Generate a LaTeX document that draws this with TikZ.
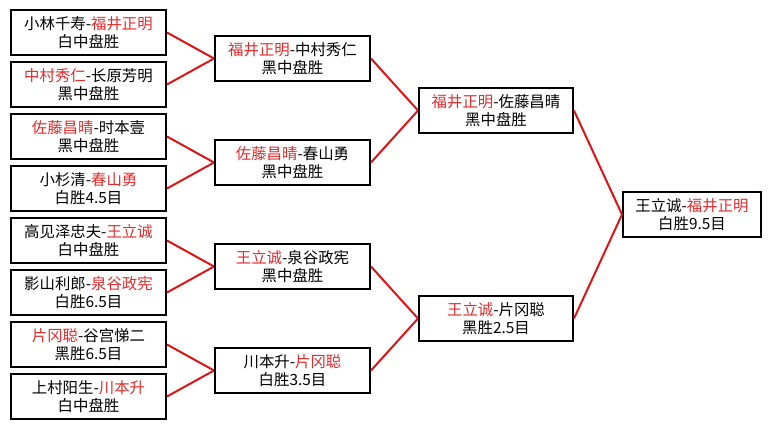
\documentclass[tikz,border=0pt]{standalone}
\usepackage{fontspec}
\newfontfamily\cjk{Noto Sans CJK SC}
\definecolor{wred}{RGB}{225,20,20}
\definecolor{tred}{RGB}{225,45,45}
\newcommand\rd[1]{\textcolor{tred}{#1}}
\begin{document}
\begin{tikzpicture}[x=1pt,y=-1pt,
  game/.style={draw=black,line width=2pt,fill=white,rectangle,minimum height=45pt,inner sep=0pt,align=center,
    font=\cjk\fontsize{15.4}{18.5}\selectfont},
  g1/.style={game,minimum width=155pt},
  g4/.style={game,minimum width=138pt},
  conn/.style={draw=wred,line width=2pt}]
\useasboundingbox (0,0) rectangle (771,429);
\fill[white] (0,0) rectangle (771,429);
% round 1
\node[g1] (a1) at (88.5,32.5)  {小林千寿-\rd{福井正明}\\白中盘胜};
\node[g1] (a2) at (88.5,84.5)  {\rd{中村秀仁}-长原芳明\\黑中盘胜};
\node[g1] (a3) at (88.5,136.5) {\rd{佐藤昌晴}-时本壹\\黑中盘胜};
\node[g1] (a4) at (88.5,188.5) {小杉清-\rd{春山勇}\\白胜4.5目};
\node[g1] (a5) at (88.5,240.5) {高见泽忠夫-\rd{王立诚}\\白中盘胜};
\node[g1] (a6) at (88.5,292.5) {影山利郎-\rd{泉谷政宪}\\白胜6.5目};
\node[g1] (a7) at (88.5,344.5) {\rd{片冈聪}-谷宫悌二\\黑胜6.5目};
\node[g1] (a8) at (88.5,396.5) {上村阳生-\rd{川本升}\\白中盘胜};
% round 2
\node[g1] (b1) at (292.5,58.5)  {\rd{福井正明}-中村秀仁\\黑中盘胜};
\node[g1] (b2) at (292.5,162.5) {\rd{佐藤昌晴}-春山勇\\黑中盘胜};
\node[g1] (b3) at (292.5,266.5) {\rd{王立诚}-泉谷政宪\\黑中盘胜};
\node[g1] (b4) at (292.5,370.5) {川本升-\rd{片冈聪}\\白胜3.5目};
% round 3
\node[g1,minimum width=154pt] (c1) at (496,110.5) {\rd{福井正明}-佐藤昌晴\\黑中盘胜};
\node[g1,minimum width=154pt] (c2) at (496,318.5) {\rd{王立诚}-片冈聪\\黑胜2.5目};
% final
\node[g4] (d1) at (692,214.5) {王立诚-\rd{福井正明}\\白胜9.5目};
% connectors
\draw[conn] (a1.east) -- (b1.west);
\draw[conn] (a2.east) -- (b1.west);
\draw[conn] (a3.east) -- (b2.west);
\draw[conn] (a4.east) -- (b2.west);
\draw[conn] (a5.east) -- (b3.west);
\draw[conn] (a6.east) -- (b3.west);
\draw[conn] (a7.east) -- (b4.west);
\draw[conn] (a8.east) -- (b4.west);
\draw[conn] (b1.east) -- (c1.west);
\draw[conn] (b2.east) -- (c1.west);
\draw[conn] (b3.east) -- (c2.west);
\draw[conn] (b4.east) -- (c2.west);
\draw[conn] (c1.east) -- (d1.west);
\draw[conn] (c2.east) -- (d1.west);
\end{tikzpicture}
\end{document}
